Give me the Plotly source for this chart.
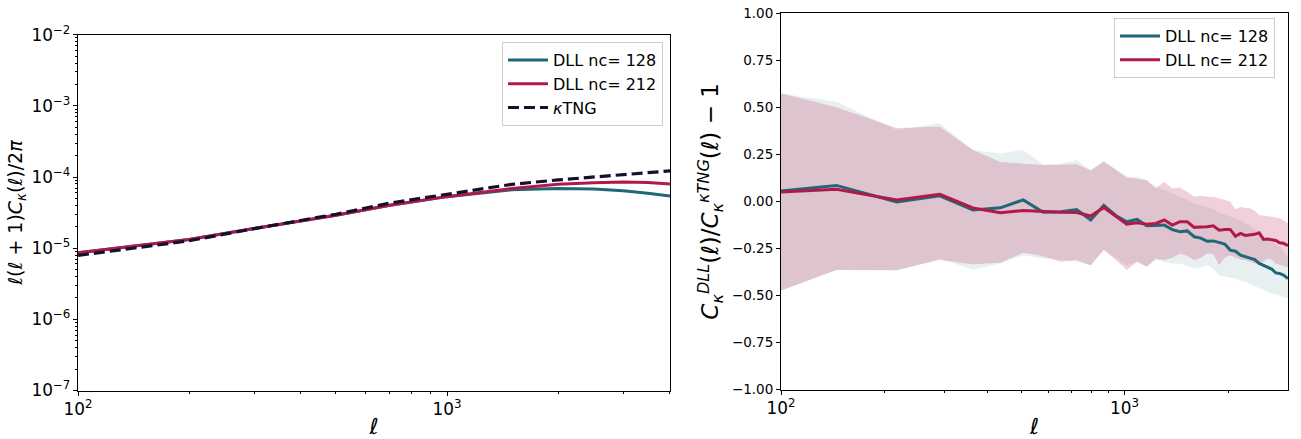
import plotly.graph_objects as go
import numpy as np

# ---------------- data ----------------
# Left panel: l(l+1)C(l)/2pi
ell_ps = [100, 200, 300, 500, 700, 1000, 1500, 2000, 2500, 3000, 3500, 4020]
ps_nc128 = [8.6e-6, 1.32e-5, 1.89e-5, 2.9e-5, 4.0e-5, 5.3e-5, 6.6e-5, 6.9e-5, 6.8e-5, 6.4e-5, 5.9e-5, 5.4e-5]
ps_nc212 = [8.6e-6, 1.32e-5, 1.89e-5, 2.9e-5, 4.0e-5, 5.3e-5, 6.9e-5, 7.9e-5, 8.3e-5, 8.5e-5, 8.4e-5, 8.0e-5]
ps_tng = [7.9e-6, 1.27e-5, 1.88e-5, 3.0e-5, 4.3e-5, 5.7e-5, 7.9e-5, 9.1e-5, 1.0e-4, 1.07e-4, 1.15e-4, 1.22e-4]

# Right panel: relative difference
ell_r = [100, 145, 217, 290, 362, 435, 507, 580, 652, 725, 797, 870, 942, 1015, 1087,
         1160, 1232, 1305, 1377, 1450, 1522, 1595, 1667, 1740, 1812, 1885, 1957, 2030,
         2102, 2175, 2247, 2320, 2392, 2465, 2537, 2610, 2682, 2755, 2827, 2900, 2990]
rel_nc212 = [0.05, 0.065, 0.008, 0.038, -0.035, -0.06, -0.048, -0.055, -0.058, -0.059,
             -0.078, -0.032, -0.078, -0.121, -0.114, -0.121, -0.117, -0.099, -0.126,
             -0.108, -0.108, -0.138, -0.136, -0.135, -0.130, -0.153, -0.150, -0.149,
             -0.185, -0.170, -0.181, -0.178, -0.175, -0.167, -0.202, -0.200, -0.202,
             -0.208, -0.220, -0.222, -0.235]
rel_nc128 = [0.055, 0.085, -0.003, 0.030, -0.046, -0.034, 0.008, -0.058, -0.055, -0.043,
             -0.099, -0.021, -0.075, -0.108, -0.096, -0.130, -0.128, -0.126, -0.150,
             -0.161, -0.157, -0.188, -0.195, -0.212, -0.210, -0.220, -0.227, -0.259,
             -0.265, -0.286, -0.295, -0.303, -0.309, -0.330, -0.339, -0.350, -0.360,
             -0.380, -0.383, -0.392, -0.410]
up_nc212 = [0.575, 0.50, 0.39, 0.397, 0.273, 0.21, 0.20, 0.193, 0.195, 0.198, 0.166, 0.211,
            0.17, 0.131, 0.12, 0.113, 0.069, 0.104, 0.069, 0.074, 0.05, 0.025, 0.03, 0.025,
            0.025, 0.015, 0.007, 0.0, -0.043, -0.029, -0.035, -0.037, -0.05, -0.073,
            -0.075, -0.08, -0.082, -0.085, -0.09, -0.10, -0.117]
lo_nc212 = [-0.475, -0.365, -0.365, -0.312, -0.334, -0.326, -0.273, -0.291, -0.321, -0.312,
            -0.339, -0.259, -0.31, -0.365, -0.321, -0.348, -0.303, -0.312, -0.30, -0.277,
            -0.29, -0.312, -0.30, -0.277, -0.28, -0.339, -0.30, -0.286, -0.30, -0.31,
            -0.312, -0.32, -0.33, -0.330, -0.32, -0.303, -0.31, -0.33, -0.34, -0.345, -0.352]
up_nc128 = [0.574, 0.53, 0.379, 0.415, 0.273, 0.255, 0.273, 0.193, 0.20, 0.220, 0.166, 0.216,
            0.17, 0.122, 0.131, 0.113, 0.08, 0.06, 0.04, 0.025, 0.01, -0.011, -0.02, -0.029,
            -0.04, -0.06, -0.07, -0.082, -0.09, -0.10, -0.117, -0.13, -0.15, -0.17, -0.188,
            -0.20, -0.215, -0.23, -0.241, -0.26, -0.30]
lo_nc128 = [-0.472, -0.365, -0.369, -0.303, -0.363, -0.33, -0.286, -0.303, -0.31, -0.321,
            -0.339, -0.256, -0.30, -0.339, -0.321, -0.348, -0.312, -0.32, -0.330, -0.33,
            -0.345, -0.357, -0.35, -0.339, -0.36, -0.392, -0.40, -0.405, -0.41, -0.42,
            -0.427, -0.44, -0.45, -0.463, -0.47, -0.48, -0.489, -0.495, -0.50, -0.51, -0.516]

names = ["DLL nc= 128", "DLL nc= 212"]
TEAL = "#22667a"
CRIMSON = "#b2194b"
NAVY = "#15102e"
FONT = "DejaVu Sans"

fig = go.Figure()

# ---- left panel ----
fig.add_trace(go.Scatter(x=ell_ps, y=ps_nc128, mode="lines", name=names[0],
                         line=dict(color=TEAL, width=3), xaxis="x", yaxis="y", legend="legend"))
fig.add_trace(go.Scatter(x=ell_ps, y=ps_nc212, mode="lines", name=names[1],
                         line=dict(color=CRIMSON, width=3), xaxis="x", yaxis="y", legend="legend"))
fig.add_trace(go.Scatter(x=ell_ps, y=ps_tng, mode="lines", name="<i>κ</i>TNG",
                         line=dict(color=NAVY, width=3.2, dash="11px,5px"), xaxis="x", yaxis="y",
                         legend="legend"))

# ---- right panel bands ----
def band(x, lo, up, color, alpha):
    xs = list(x) + list(x)[::-1]
    ys = list(up) + list(lo)[::-1]
    r, g, b = int(color[1:3], 16), int(color[3:5], 16), int(color[5:7], 16)
    return go.Scatter(x=xs, y=ys, fill="toself", mode="lines", line=dict(width=0),
                      fillcolor=f"rgba({r},{g},{b},{alpha})", hoverinfo="skip",
                      showlegend=False, xaxis="x2", yaxis="y2")

fig.add_trace(band(ell_r, lo_nc128, up_nc128, TEAL, 0.1))
fig.add_trace(band(ell_r, lo_nc212, up_nc212, CRIMSON, 0.2))
fig.add_trace(go.Scatter(x=ell_r, y=rel_nc128, mode="lines", name=names[0],
                         line=dict(color=TEAL, width=3), xaxis="x2", yaxis="y2", legend="legend2"))
fig.add_trace(go.Scatter(x=ell_r, y=rel_nc212, mode="lines", name=names[1],
                         line=dict(color=CRIMSON, width=3), xaxis="x2", yaxis="y2", legend="legend2"))

axis_common = dict(showline=True, linecolor="black", linewidth=1, mirror=True,
                   ticks="outside", ticklen=4, tickcolor="black", tickwidth=1,
                   showgrid=False, zeroline=False, automargin=False,
                   tickfont=dict(family=FONT, size=13.5, color="black"))
minor_log = dict(ticks="outside", ticklen=2, tickcolor="black", dtick="D1", showgrid=False)

H = 439.0
fig.update_layout(
    width=1301, height=439,
    margin=dict(l=0, r=0, t=0, b=0),
    paper_bgcolor="white", plot_bgcolor="white",
    font=dict(family=FONT, color="black"),
    xaxis=dict(domain=[78 / 1301, 670 / 1301], type="log", range=[2, np.log10(4020)],
               anchor="y", dtick=1, exponentformat="power", minor=minor_log,
               title=dict(text="<i>ℓ</i>", font=dict(family=FONT, size=22), standoff=15),
               **axis_common),
    yaxis=dict(domain=[1 - 390.5 / H, 1 - 34.7 / H], type="log", range=[-7, -2], anchor="x",
               dtick=1, exponentformat="power", minor=minor_log,
               title=dict(text="<i>ℓ</i>(<i>ℓ</i> + 1)<i>C</i><sub><i>κ</i></sub>(<i>ℓ</i>)/2<i>π</i>",
                          font=dict(family=FONT, size=19), standoff=3),
               **axis_common),
    xaxis2=dict(domain=[781 / 1301, 1288 / 1301], type="log", range=[2, np.log10(2990)],
                anchor="y2", dtick=1, exponentformat="power", minor=minor_log,
                title=dict(text="<i>ℓ</i>", font=dict(family=FONT, size=22), standoff=15),
                **axis_common),
    yaxis2=dict(domain=[1 - 389.5 / H, 1 - 13.3 / H], range=[-1, 1], anchor="x2",
                tickmode="array", tickvals=[-1, -0.75, -0.5, -0.25, 0, 0.25, 0.5, 0.75, 1],
                tickformat=".2f",
                title=dict(text="<i>C</i><sub><i>κ</i></sub><sup><i>DLL</i></sup>(<i>ℓ</i>)/"
                                "<i>C</i><sub><i>κ</i></sub><sup><i>κTNG</i></sup>(<i>ℓ</i>) − 1",
                           font=dict(family=FONT, size=23), standoff=6),
                **axis_common),
    legend=dict(x=663 / 1301, y=1 - 42 / H, xanchor="right", yanchor="top",
                bgcolor="rgba(255,255,255,0.8)", bordercolor="#cccccc", borderwidth=1,
                font=dict(family=FONT, size=16), itemwidth=40, tracegroupgap=2),
    legend2=dict(x=1275 / 1301, y=1 - 18 / H, xanchor="right", yanchor="top",
                 bgcolor="rgba(255,255,255,0.8)", bordercolor="#cccccc", borderwidth=1,
                 font=dict(family=FONT, size=16), itemwidth=40, tracegroupgap=2),
)

fig.write_html("out.html")
